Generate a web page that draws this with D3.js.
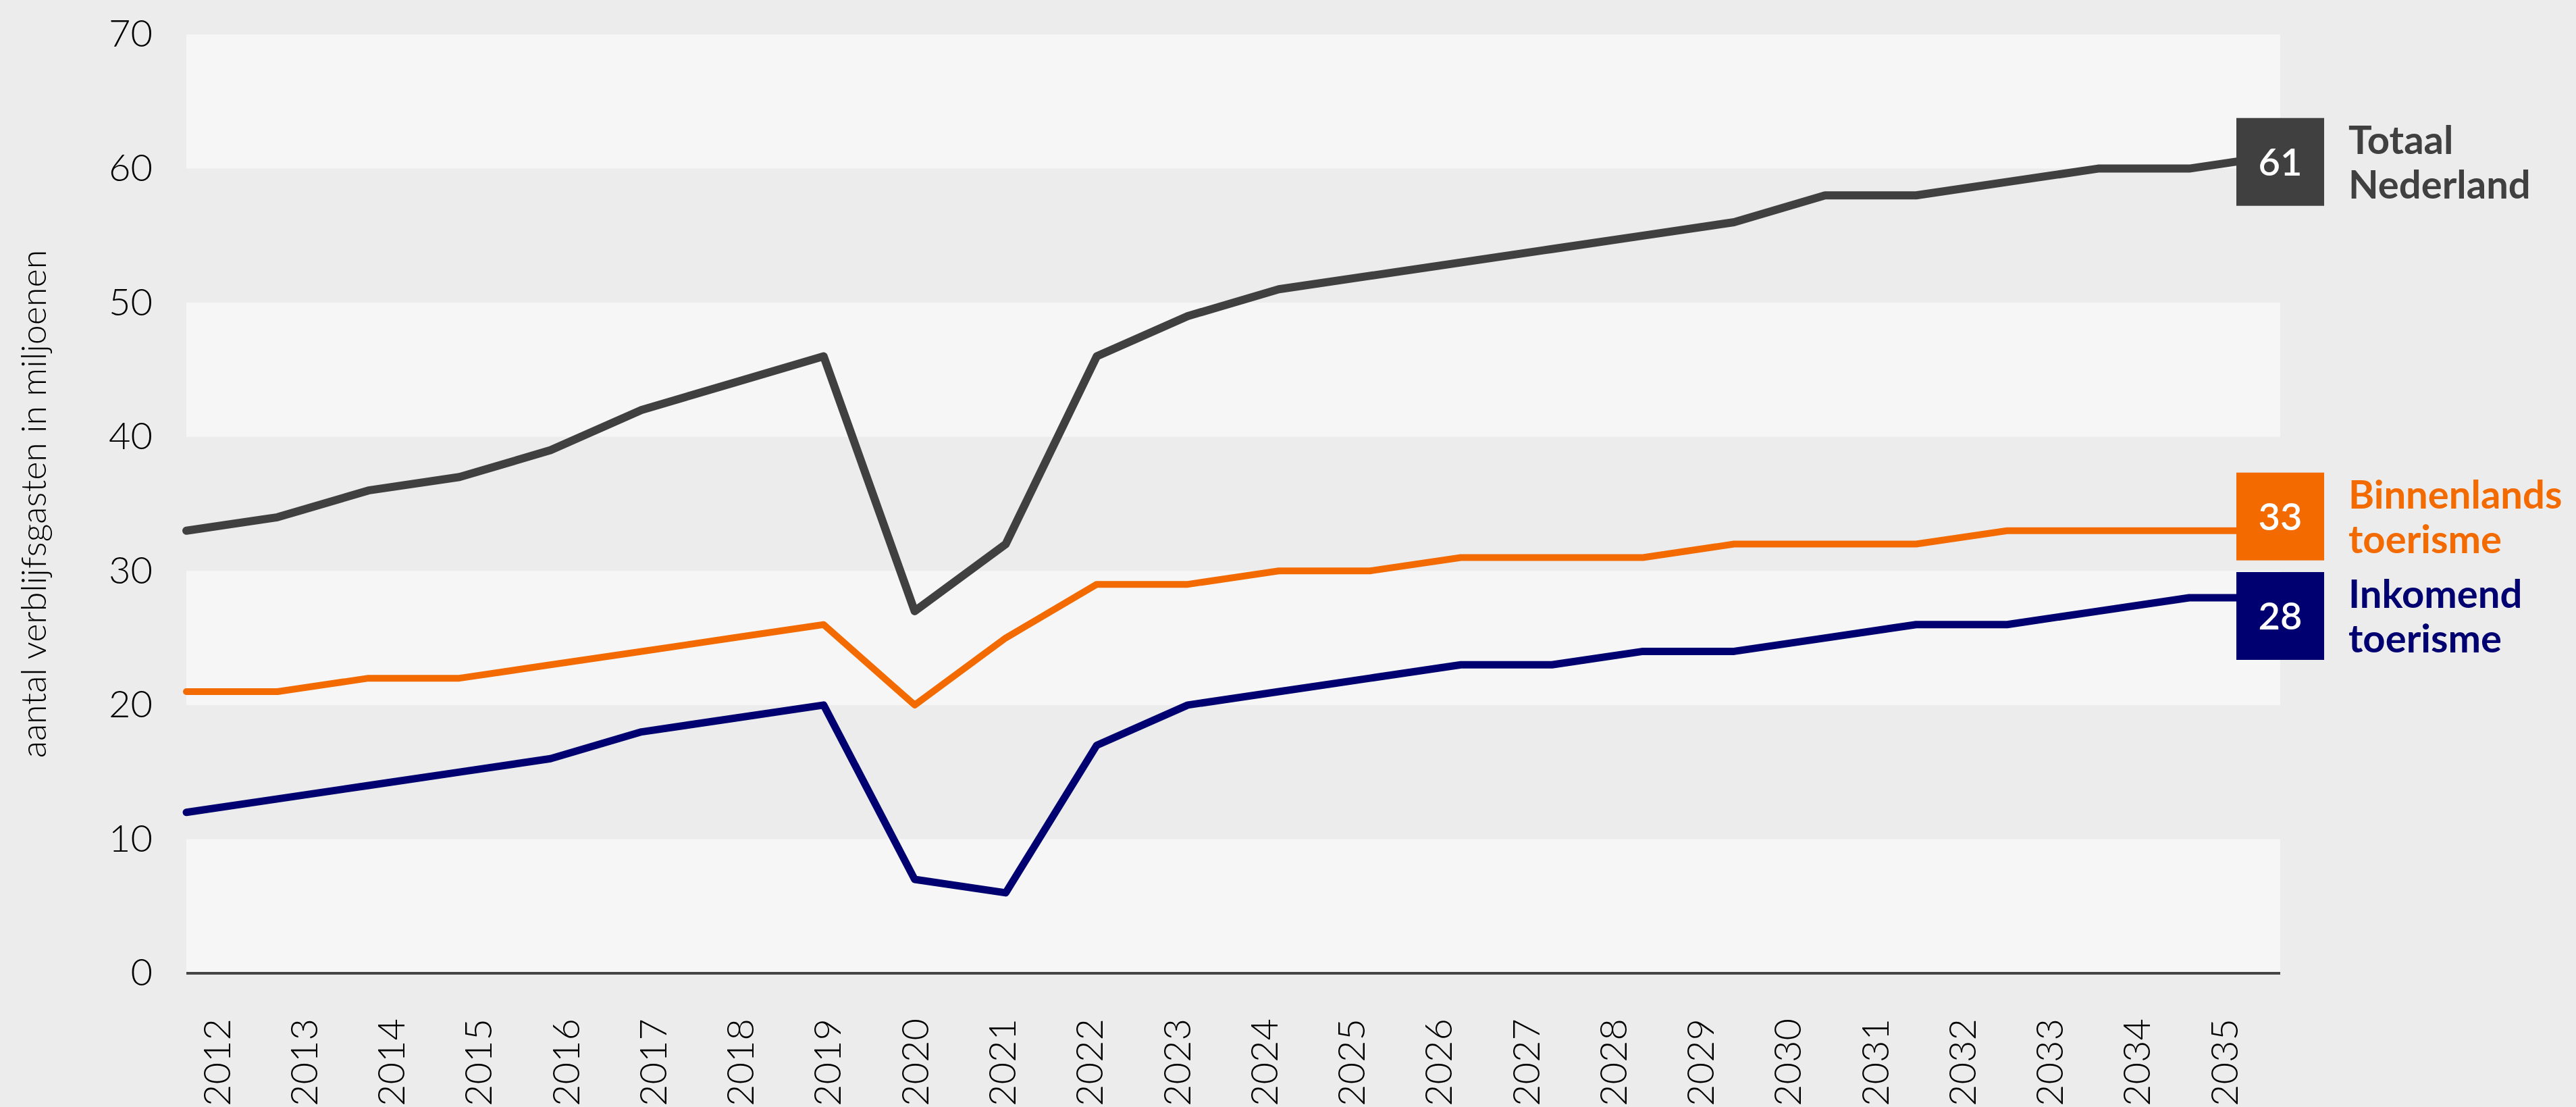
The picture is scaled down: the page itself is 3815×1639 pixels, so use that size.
<!DOCTYPE html>
<html>
<head>
<meta charset="utf-8">
<script src="https://cdn.jsdelivr.net/npm/d3@7"></script>
<style>
  body { margin: 0; background: #ececec; }
  svg { display: block; font-family: Lato, "Open Sans", sans-serif; }
</style>
</head>
<body>
<svg id="chart" width="3815" height="1639"></svg>
<script>
// years on the x axis
const years = ["2012","2013","2014","2015","2016","2017","2018","2019","2020","2021","2022","2023",
               "2024","2025","2026","2027","2028","2029","2030","2031","2032","2033","2034","2035"];
const yTicks = [0, 10, 20, 30, 40, 50, 60, 70];

const totaal      = [33,34,36,37,39,42,44,46,27,32,46,49,51,52,53,54,55,56,58,58,59,60,60,61];
const binnenlands = [21,21,22,22,23,24,25,26,20,25,29,29,30,30,31,31,31,32,32,32,33,33,33,33];
const inkomend    = [12,13,14,15,16,18,19,20,7,6,17,20,21,22,23,23,24,24,25,26,26,27,28,28];

const seriesNames = [["Totaal", "Nederland"], ["Binnenlands", "toerisme"], ["Inkomend", "toerisme"]];
const seriesColors = ["#404040", "#f26a00", "#000070"];
const yTitle = "aantal verblijfsgasten in miljoenen";

const svg = d3.select("#chart");
const plot = {left: 276, right: 3377, top: 51, bottom: 1441};

const x = d3.scalePoint().domain(years).range([plot.left, plot.right]);
const xLab = d3.scalePoint().domain(years).range([320, 3293]);
const y = d3.scaleLinear().domain([0, 70]).range([plot.bottom, plot.top]);

// alternating bands
svg.append("g").selectAll("rect")
    .data(yTicks.slice(0, -1).filter(v => (v / 10) % 2 === 0))
    .join("rect")
    .attr("x", plot.left)
    .attr("width", plot.right - plot.left)
    .attr("y", d => y(d + 10))
    .attr("height", d => y(d) - y(d + 10))
    .attr("fill", "#f6f6f6");

// baseline
svg.append("line")
    .attr("x1", plot.left).attr("x2", plot.right)
    .attr("y1", y(0)).attr("y2", y(0))
    .attr("stroke", "#454545").attr("stroke-width", 4);

// y axis
const yAxis = svg.append("g")
    .attr("transform", `translate(${plot.left},0)`)
    .call(d3.axisLeft(y).tickValues(yTicks).tickSize(0).tickPadding(50));
yAxis.select(".domain").remove();
yAxis.selectAll("text")
    .attr("font-size", 56).attr("font-weight", 300).attr("fill", "#000")
    .attr("font-family", "Lato, sans-serif");

// x axis
const xAxis = svg.append("g")
    .attr("transform", `translate(0,${plot.bottom})`)
    .call(d3.axisBottom(xLab).tickSize(0));
xAxis.select(".domain").remove();
xAxis.selectAll("text")
    .attr("transform", "rotate(-90)")
    .attr("x", -67).attr("y", 0).attr("dy", "0.36em")
    .attr("text-anchor", "end")
    .attr("font-size", 56).attr("font-weight", 300).attr("fill", "#000")
    .attr("font-family", "Lato, sans-serif");

// y axis title
svg.append("text")
    .attr("transform", `translate(68,${(plot.top + plot.bottom) / 2}) rotate(-90)`)
    .attr("text-anchor", "middle")
    .attr("font-size", 52).attr("font-weight", 300).attr("fill", "#000")
    .text(yTitle);

// lines
const allSeries = [totaal, binnenlands, inkomend];
const widths = [12, 10, 11];
const line = d3.line().x((d, i) => x(years[i])).y(d => y(d));

allSeries.forEach((s, k) => {
    svg.append("path")
        .datum(s)
        .attr("d", line)
        .attr("fill", "none")
        .attr("stroke", seriesColors[k])
        .attr("stroke-width", widths[k])
        .attr("stroke-linejoin", "round")
        .attr("stroke-linecap", "round");
});

// end labels: boxes + names (boxes nudged so they don't overlap)
const nudge = [10, -21, 27];
const boxSize = 130, boxX = 3312;
allSeries.forEach((s, k) => {
    const last = s[s.length - 1];
    const cy = y(last) + nudge[k];
    const g = svg.append("g");
    g.append("rect")
        .attr("x", boxX).attr("y", cy - boxSize / 2)
        .attr("width", boxSize).attr("height", boxSize)
        .attr("fill", seriesColors[k]);
    g.append("text")
        .attr("x", boxX + boxSize / 2).attr("y", cy)
        .attr("dy", "0.36em")
        .attr("text-anchor", "middle")
        .attr("font-size", 56).attr("font-weight", 600)
        .attr("fill", "#fff")
        .text(last);
    const t = g.append("text")
        .attr("x", 3478).attr("y", cy - 12)
        .attr("font-size", 58).attr("font-weight", 700)
        .attr("fill", seriesColors[k]);
    seriesNames[k].forEach((n, j) => {
        t.append("tspan").attr("x", 3478).attr("dy", j === 0 ? 0 : 66).text(n);
    });
});
</script>
</body>
</html>
